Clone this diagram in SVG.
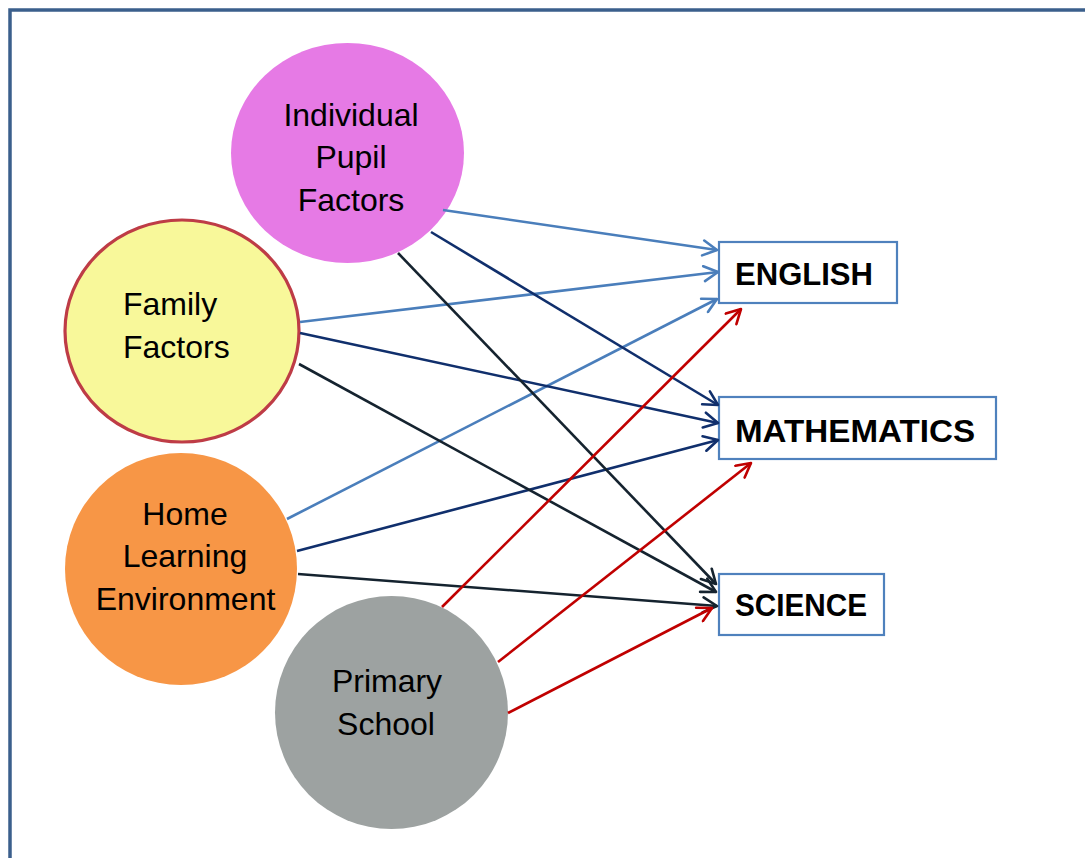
<svg xmlns="http://www.w3.org/2000/svg" width="1085" height="858" viewBox="0 0 1085 858">
<style>
.lbl{font-family:"Liberation Sans",Arial,sans-serif;font-size:32px;fill:#000}
.box{fill:#fff;stroke:#4F81BD;stroke-width:2.2}
.bl{font-family:"Liberation Sans",Arial,sans-serif;font-size:31px;font-weight:bold;fill:#000}
.c{fill:none;stroke-width:2.6}
.lb{stroke:#4A7EBB}
.nv{stroke:#102F6C}
.dk{stroke:#15232F}
.rd{stroke:#C00000}
</style>
<defs>
<marker id="aLb" markerUnits="userSpaceOnUse" viewBox="0 0 18 18" markerWidth="18" markerHeight="18" refX="16" refY="9" orient="auto"><path d="M2,1.5 L16,9 L2,16.5" fill="none" stroke="#4A7EBB" stroke-width="2.6" stroke-linecap="round" stroke-linejoin="round"/></marker>
<marker id="aNv" markerUnits="userSpaceOnUse" viewBox="0 0 18 18" markerWidth="18" markerHeight="18" refX="16" refY="9" orient="auto"><path d="M2,1.5 L16,9 L2,16.5" fill="none" stroke="#102F6C" stroke-width="2.6" stroke-linecap="round" stroke-linejoin="round"/></marker>
<marker id="aDk" markerUnits="userSpaceOnUse" viewBox="0 0 18 18" markerWidth="18" markerHeight="18" refX="16" refY="9" orient="auto"><path d="M2,1.5 L16,9 L2,16.5" fill="none" stroke="#15232F" stroke-width="2.6" stroke-linecap="round" stroke-linejoin="round"/></marker>
<marker id="aRd" markerUnits="userSpaceOnUse" viewBox="0 0 18 18" markerWidth="18" markerHeight="18" refX="16" refY="9" orient="auto"><path d="M2,1.5 L16,9 L2,16.5" fill="none" stroke="#C00000" stroke-width="2.6" stroke-linecap="round" stroke-linejoin="round"/></marker>
</defs>
<rect width="1085" height="858" fill="#fff"/>
<path d="M10,862 V10 H1090" fill="none" stroke="#3B5F8C" stroke-width="3.5"/>

<g id="individual">
<ellipse cx="347.5" cy="153" rx="116.5" ry="110" fill="#E67AE5"/>
<text class="lbl" x="351" y="126" text-anchor="middle">Individual</text>
<text class="lbl" x="351" y="168" text-anchor="middle">Pupil</text>
<text class="lbl" x="351" y="211" text-anchor="middle">Factors</text>
</g>
<g id="family">
<ellipse cx="182" cy="331" rx="117" ry="111" fill="#F8F89A" stroke="#BE3C46" stroke-width="3.2"/>
<text class="lbl" x="123" y="315">Family</text>
<text class="lbl" x="123" y="358">Factors</text>
</g>
<g id="home">
<ellipse cx="181" cy="569" rx="116" ry="116" fill="#F79646"/>
<text class="lbl" x="185" y="525" text-anchor="middle">Home</text>
<text class="lbl" x="185" y="567" text-anchor="middle">Learning</text>
<text class="lbl" x="185.5" y="610" text-anchor="middle">Environment</text>
</g>
<g id="school">
<ellipse cx="391.5" cy="712.5" rx="116.5" ry="116.5" fill="#9DA2A1"/>
<text class="lbl" x="387" y="692" text-anchor="middle">Primary</text>
<text class="lbl" x="386" y="735" text-anchor="middle">School</text>
</g>

<g id="english">
<rect class="box" x="719" y="242" width="178" height="61"/>
<text class="bl" x="735" y="285" textLength="138" lengthAdjust="spacingAndGlyphs">ENGLISH</text>
</g>
<g id="mathematics">
<rect class="box" x="719" y="397" width="277" height="62"/>
<text class="bl" x="735" y="442" textLength="240" lengthAdjust="spacingAndGlyphs">MATHEMATICS</text>
</g>
<g id="science">
<rect class="box" x="719" y="574" width="165" height="61"/>
<text class="bl" x="735" y="616" textLength="132" lengthAdjust="spacingAndGlyphs">SCIENCE</text>
</g>

<g id="connectors">
<line class="c lb" x1="443" y1="210" x2="717" y2="250" marker-end="url(#aLb)"/>
<line class="c lb" x1="300" y1="322" x2="718" y2="272" marker-end="url(#aLb)"/>
<line class="c lb" x1="287" y1="519" x2="717" y2="299" marker-end="url(#aLb)"/>
<line class="c nv" x1="431" y1="232" x2="718" y2="405" marker-end="url(#aNv)"/>
<line class="c nv" x1="300" y1="333" x2="718" y2="423" marker-end="url(#aNv)"/>
<line class="c nv" x1="297" y1="551" x2="718" y2="440" marker-end="url(#aNv)"/>
<line class="c dk" x1="398" y1="253" x2="716" y2="584" marker-end="url(#aDk)"/>
<line class="c dk" x1="299" y1="364" x2="716" y2="592" marker-end="url(#aDk)"/>
<line class="c dk" x1="298" y1="574" x2="717" y2="606" marker-end="url(#aDk)"/>
<line class="c rd" x1="442" y1="607" x2="741" y2="309" marker-end="url(#aRd)"/>
<line class="c rd" x1="498" y1="662" x2="751" y2="463" marker-end="url(#aRd)"/>
<line class="c rd" x1="508" y1="713" x2="712" y2="608" marker-end="url(#aRd)"/>
</g>
</svg>
